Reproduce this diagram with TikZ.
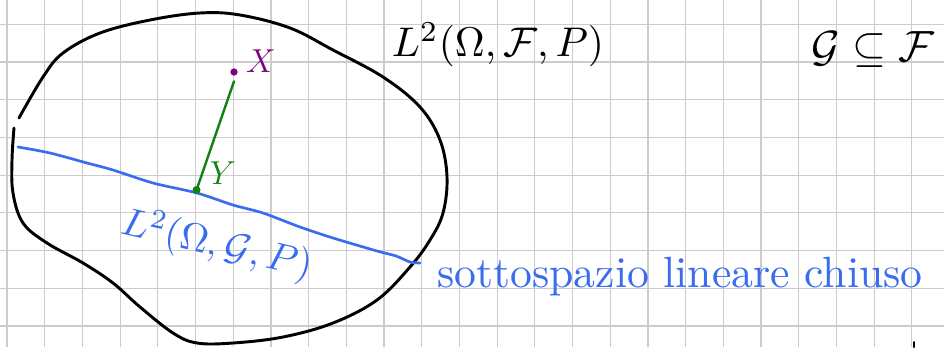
\documentclass[tikz,border=0pt]{standalone}
\usepackage{amssymb}
\usepackage{graphicx}
\definecolor{gridgray}{RGB}{204,204,204}
\definecolor{penblue}{RGB}{58,108,240}
\definecolor{pengreen}{RGB}{20,128,20}
\definecolor{penpurple}{RGB}{128,0,128}
\tikzset{
  gridline/.style={draw=gridgray, line width=0.9pt},
  ink/.style={line width=2.2pt, line cap=round, line join=round},
  lbl/.style={inner sep=0pt, outer sep=0pt},
}
\begin{document}
\begin{tikzpicture}[x=0.75pt, y=-0.75pt]
\fill[white] (0,0) rectangle (944,347);
\useasboundingbox (0,0) rectangle (944,347);
% grid
\foreach \k in {0,...,24} { \draw[gridline] ({7+37.7*\k},0) -- ({7+37.7*\k},347); }
\foreach \k in {0,...,8} { \draw[gridline] (0,{24.3+37.7*\k}) -- (944,{24.3+37.7*\k}); }
% blob
\draw[ink, black] plot[smooth, tension=0.6] coordinates {
 (19,118) (43,77) (63,53) (100,33) (150,20) (200,13) (240,15) (290,28) (333,50)
 (383,77) (420,107) (440,140) (447,177) (443,213) (430,240) (410,267) (377,300)
 (333,323) (283,337) (233,343) (197,343) (173,333) (140,307) (113,283) (83,263)
 (47,243) (23,223) (13,193) (12,160) (14,128)};
% blue subspace line
\draw[ink, penblue, line width=2pt] plot[smooth, tension=0.5] coordinates {
 (18,147) (50,153) (87,163) (113,170) (153,183) (197,193) (233,205) (263,213)
 (300,227) (333,238) (377,251) (396,256) (410,262) (420,263)};
% points
\node[lbl, circle, fill=penpurple, minimum size=5.5pt] (x) at (234,72) {};
\node[lbl, circle, fill=pengreen, minimum size=6pt] (y) at (196.5,190) {};
\draw[ink, pengreen, line width=1.8pt] ([yshift=-7pt]x.center) -- (y.center);
% labels
\node[lbl, text=penpurple] (xl) at (261,61) {\fontsize{27}{29}\selectfont$X$};
\node[lbl, text=pengreen] (yl) at (223,173) {\fontsize{28}{30}\selectfont$Y$};
\node[lbl, text=black] (l2f) at (498,45) {\resizebox{159pt}{!}{$L^2(\Omega,\mathcal{F},P)$}};
\node[lbl, text=black] (gf) at (873,50) {\resizebox{92pt}{!}{$\mathcal{G}\subseteq\mathcal{F}$}};
\node[lbl, text=penblue, rotate=-13] (l2g) at (217,245) {\resizebox{146pt}{!}{$L^2(\Omega,\mathcal{G},P)$}};
\node[lbl, text=penblue, anchor=base] (sub) at (680,287) {\resizebox{364pt}{!}{sottospazio lineare chiuso}};
% small mark
\draw[ink, black, line width=1.5pt] (914,342) -- (914,347);
\end{tikzpicture}
\end{document}
